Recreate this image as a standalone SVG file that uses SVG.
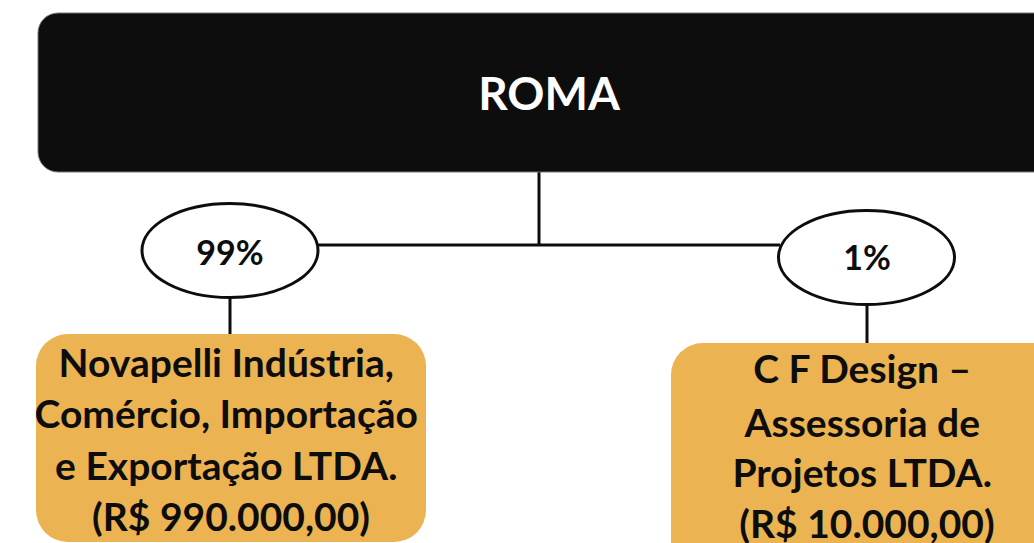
<svg xmlns="http://www.w3.org/2000/svg" width="1034" height="543" viewBox="0 0 1034 543">
<style>
.t{font-family:Lato,"Open Sans","Liberation Sans",sans-serif;font-weight:bold;text-anchor:middle}
.box{fill:#ebb352}
.ell{fill:#fff;stroke:#0d0d0d;stroke-width:3}
.ln{stroke:#0d0d0d;stroke-width:3;fill:none}
</style>
<g id="connectors">
<line class="ln" x1="539" y1="172" x2="539" y2="245"/>
<line class="ln" x1="318" y1="245" x2="780" y2="245"/>
<line class="ln" x1="230" y1="298" x2="230" y2="335"/>
<line class="ln" x1="867" y1="305" x2="867" y2="344"/>
</g>
<g id="roma">
<rect x="38" y="13" width="1030" height="159" rx="20" fill="#0d0d0d" stroke="#777" stroke-width="1"/>
<text class="t" x="549" y="110" font-size="46" fill="#fff">ROMA</text>
</g>
<g id="p99">
<ellipse class="ell" cx="230" cy="250.5" rx="88" ry="47"/>
<text class="t" x="230" y="265" font-size="34" fill="#0d0d0d">99%</text>
</g>
<g id="p1">
<ellipse class="ell" cx="866.5" cy="257.5" rx="88" ry="47"/>
<text class="t" x="867" y="270" font-size="34" fill="#0d0d0d">1%</text>
</g>
<g id="novapelli">
<rect class="box" x="36" y="334" width="390" height="208" rx="32"/>
<text class="t" font-size="39" fill="#0d0d0d">
<tspan x="231" y="377">Novapelli Indústria,</tspan>
<tspan x="231" y="428">Comércio, Importação</tspan>
<tspan x="231" y="480">e Exportação LTDA.</tspan>
<tspan x="231" y="531">(R$ 990.000,00)</tspan>
</text>
</g>
<g id="cfdesign">
<rect class="box" x="671" y="343" width="400" height="230" rx="32"/>
<text class="t" font-size="39" fill="#0d0d0d">
<tspan x="867" y="383">C F Design –</tspan>
<tspan x="867" y="437">Assessoria de</tspan>
<tspan x="867" y="487">Projetos LTDA.</tspan>
<tspan x="867" y="538">(R$ 10.000,00)</tspan>
</text>
</g>
</svg>
